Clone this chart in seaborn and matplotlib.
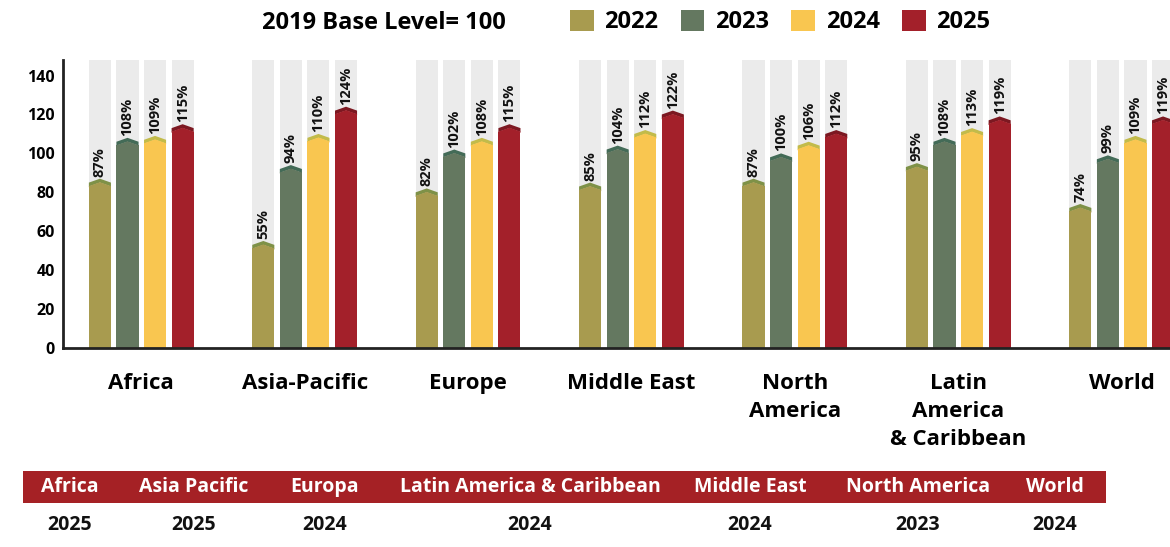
import pandas as pd
import numpy as np
import matplotlib.pyplot as plt
import seaborn as sns
from matplotlib.patches import Polygon, Rectangle

# chart data
regions = ['Africa', 'Asia-Pacific', 'Europe', 'Middle East', 'North\nAmerica',
           'Latin\nAmerica\n& Caribbean', 'World']
years = ['2022', '2023', '2024', '2025']
v2022 = [87, 55, 82, 85, 87, 95, 74]
v2023 = [108, 94, 102, 104, 100, 108, 99]
v2024 = [109, 110, 108, 112, 106, 113, 109]
v2025 = [115, 124, 115, 122, 112, 119, 119]

# bottom table: region with peak year
table_regions = ['Africa', 'Asia Pacific', 'Europa', 'Latin America & Caribbean',
                 'Middle East', 'North America', 'World']
table_years = ['2025', '2025', '2024', '2024', '2024', '2023', '2024']
table_xpix = [70, 194, 325, 530, 750, 918, 1055]

colors = ['#a89b4f', '#647860', '#f9c650', '#a3202a']
cap_colors = ['#7e9147', '#436b57', '#c2bb4a', '#7c1821']
bg_color = '#ebebeb'
top = 148

rows = []
for y, vals in zip(years, [v2022, v2023, v2024, v2025]):
    for r, v in zip(regions, vals):
        rows.append({'region': r, 'year': y, 'value': v, 'bg': top})
df = pd.DataFrame(rows)

plt.rcParams['font.family'] = ['Open Sans', 'DejaVu Sans']
plt.rcParams['font.weight'] = 'bold'

W, H = 1170, 547
fig = plt.figure(figsize=(W / 100, H / 100), dpi=100)
ax = fig.add_axes([63 / W, 1 - 348 / H, 1 - 63 / W + 0.002, (348 - 60) / H])

# grey background columns
sns.barplot(data=df, x='region', y='bg', hue='year', hue_order=years,
            palette=[bg_color] * 4, width=0.675, gap=0.2, legend=False,
            ax=ax, order=regions, zorder=1)
n_bg = len(ax.patches)

sns.barplot(data=df, x='region', y='value', hue='year', hue_order=years,
            palette=colors, width=0.675, gap=0.2, legend=False,
            ax=ax, order=regions, zorder=2, saturation=1)

# pointed caps on the bars
s, t = 2.0, 1.8
for i, cont in enumerate(ax.containers[4:]):
    for patch, val in zip(cont.patches, cont.datavalues):
        x0 = patch.get_x()
        w = patch.get_width()
        x1, xc = x0 + w, x0 + w / 2
        patch.set_height(val - s - t)
        patch.set_linewidth(0)
        ax.add_patch(Polygon([(x0, val - s - t - 0.6), (x0, val - s - t), (xc, val - t),
                              (x1, val - s - t), (x1, val - s - t - 0.6)],
                             closed=True, facecolor=colors[i], lw=0, zorder=2.5))
        ax.add_patch(Polygon([(x0, val - s), (xc, val), (x1, val - s),
                              (x1, val - s - t - 0.2), (xc, val - t - 0.2),
                              (x0, val - s - t - 0.2)],
                             closed=True, facecolor=cap_colors[i], lw=0, zorder=2.4))
        ax.text(xc, val + 1.0, f'{int(val)}%', rotation=90, ha='center',
                va='bottom', fontsize=10.5, fontweight='bold', color='#111111',
                zorder=4)
for p in ax.patches[:n_bg]:
    p.set_linewidth(0)

ax.set_ylim(0, top)
ax.set_xlim(-0.479, 6.31)
ax.set_yticks(range(0, 141, 20))
ax.set_xlabel('')
ax.set_ylabel('')
ax.tick_params(axis='y', length=0, pad=6, labelsize=11.5)
ax.tick_params(axis='x', length=0, pad=18, labelsize=16)
for lab in ax.get_xticklabels():
    lab.set_fontweight('bold')
    lab.set_linespacing(1.45)
    lab.set_va('top')
for lab in ax.get_yticklabels():
    lab.set_fontweight('bold')
for side in ['top', 'right']:
    ax.spines[side].set_visible(False)
ax.spines['left'].set_linewidth(2)
ax.spines['bottom'].set_linewidth(2)
ax.spines['left'].set_color('#222222')
ax.spines['bottom'].set_color('#222222')
ax.grid(False)

# title and legend
fig.text(384 / W, 1 - 23 / H, '2019 Base Level= 100', ha='center', va='center',
         fontsize=17, fontweight='bold')
handles = [Rectangle((0, 0), 1, 1, facecolor=c) for c in colors]
fig.legend(handles, years, loc='center left', bbox_to_anchor=(570 / W, 1 - 22 / H),
           ncol=4, frameon=False, handlelength=1.0, handleheight=1.0,
           columnspacing=0.95, handletextpad=0.45, borderpad=0, borderaxespad=0,
           prop={'weight': 'bold', 'size': 17})

# bottom band
fig.patches.append(Rectangle((23 / W, 1 - 503 / H), (1106 - 23) / W, 32 / H,
                             transform=fig.transFigure, facecolor='#a52125',
                             edgecolor='none', figure=fig))
for name, yr, xp in zip(table_regions, table_years, table_xpix):
    fig.text(xp / W, 1 - 487 / H, name, ha='center', va='center', color='white',
             fontsize=14, fontweight='bold')
    fig.text(xp / W, 1 - 525 / H, yr, ha='center', va='center', color='#111111',
             fontsize=14, fontweight='bold')

fig.savefig('out.png', dpi=100)
